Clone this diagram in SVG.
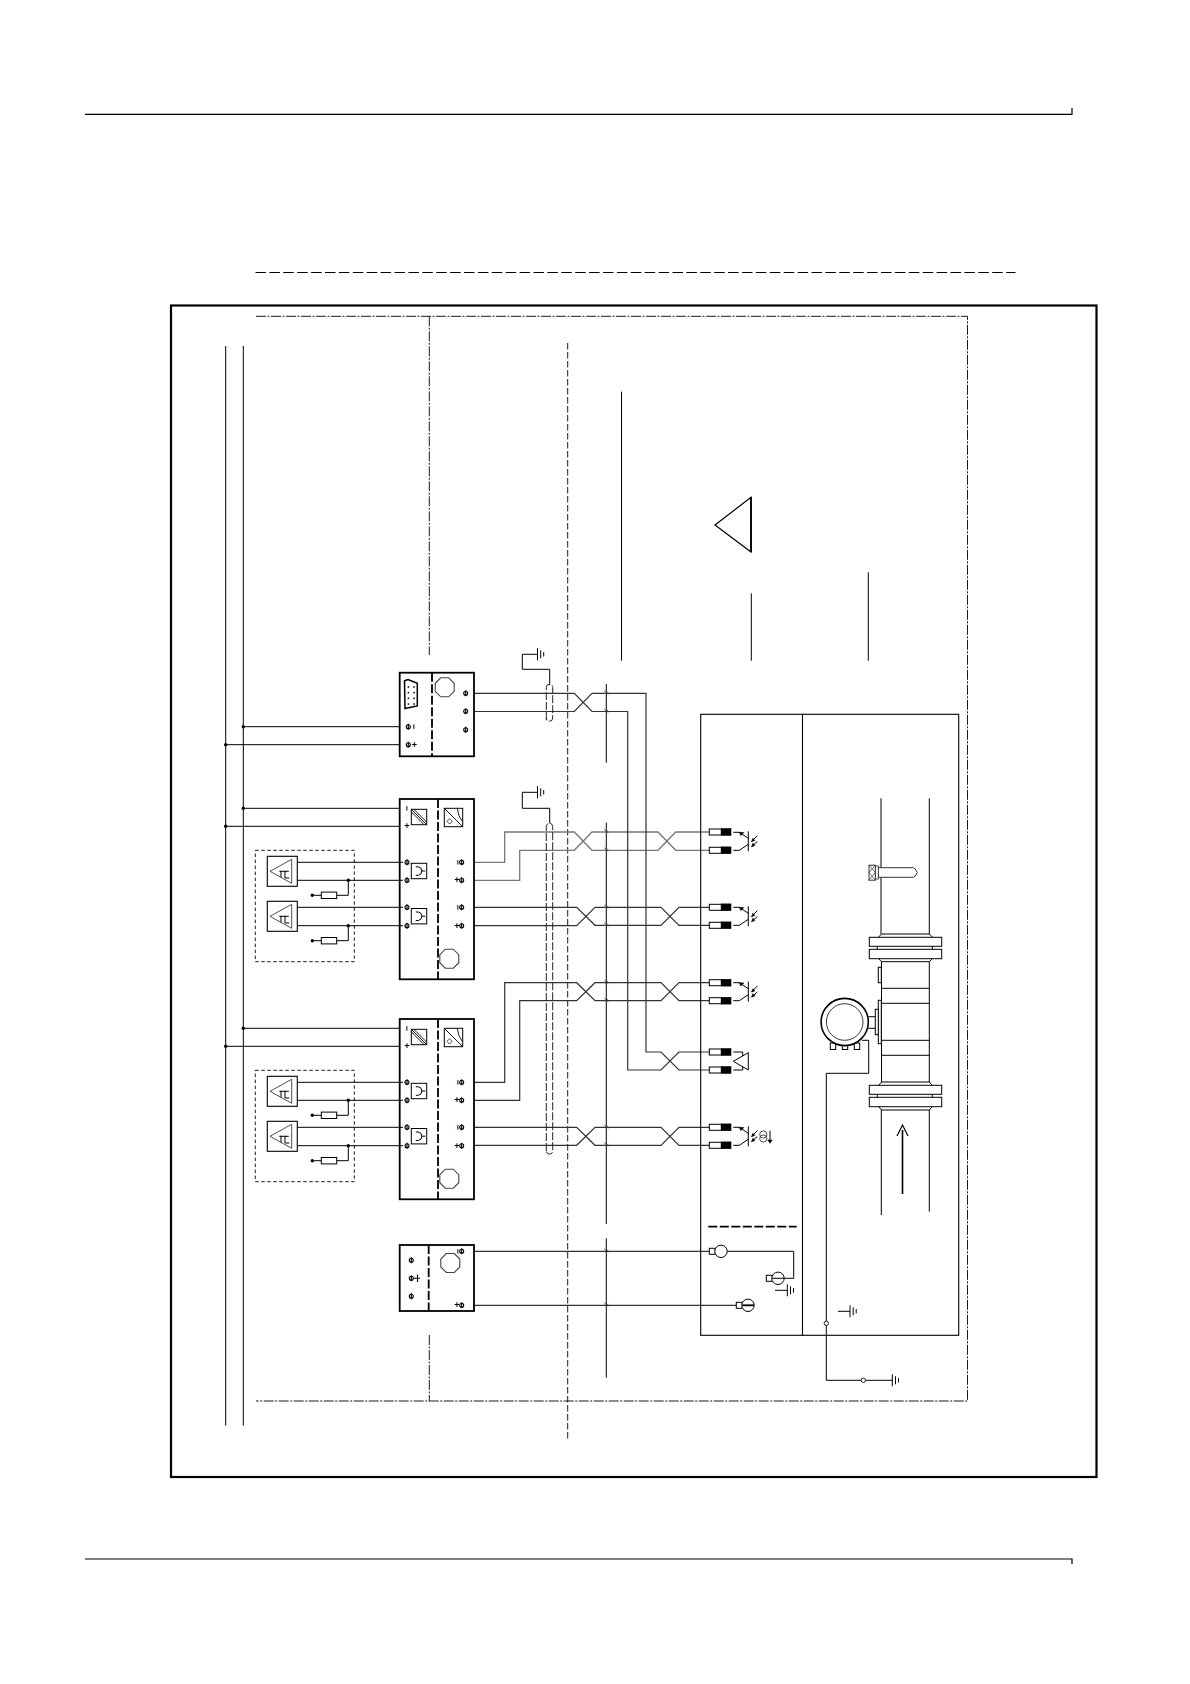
<svg xmlns="http://www.w3.org/2000/svg" xmlns:xlink="http://www.w3.org/1999/xlink" width="1190" height="1684" viewBox="0 0 1190 1684">
<style>
.l{fill:none;stroke:#000;stroke-width:1}
.thin{fill:none;stroke:#222;stroke-width:.8}
.box{fill:#fff;stroke:#000;stroke-width:1.8}
.sq{fill:#fff;stroke:#000;stroke-width:1}
.div{fill:none;stroke:#000;stroke-width:1.8;stroke-dasharray:9 2.5}
.dd{fill:none;stroke:#000;stroke-width:.9;stroke-dasharray:10 1.5 2 1.5}
.da{fill:none;stroke:#000;stroke-width:.9;stroke-dasharray:3.5 2.5}
.cap{fill:none;stroke:#222;stroke-width:1;stroke-dasharray:8 2}
.gr{fill:none;stroke:#777;stroke-width:1.3}
.dg{fill:none;stroke:#333;stroke-width:1.2}
.oct{fill:#fff;stroke:#444;stroke-width:1.1}
.dot{fill:#000}
.blk{fill:#000;stroke:#000;stroke-width:.6}
.m{font-family:"Liberation Sans",Arial,sans-serif;font-size:9px;font-weight:bold;text-anchor:middle;dominant-baseline:central;fill:#000}
</style>
<defs>
<g id="t"><circle r="2" fill="none" stroke="#000" stroke-width="1.1"/><path d="M0 -3V3" stroke="#000" stroke-width="1.1"/></g>
<g id="gnd"><path d="M0 -6V6" class="l"/><path d="M3.2 -4V4M6.2 -2.2V2.2" class="l"/></g>
<polygon id="octa" class="oct" points="-4,-9.5 4,-9.5 9.5,-4 9.5,4 4,9.5 -4,9.5 -9.5,4 -9.5,-4"/>
<path id="tick" d="M-2 -2.5L2 1M-.5 .5L1.5 -1.5" fill="none" stroke="#333" stroke-width=".8"/>
<g id="plug"><rect x="0" y="-3" width="12" height="6" class="sq"/><rect x="12" y="-3.4" width="9.7" height="6.8" class="blk"/></g>
<g id="sens">
<rect width="30" height="30" class="sq" style="stroke-width:1.1"/>
<path d="M2.7 15L24.4 3V27Z" class="thin"/>
<path d="M12 15H21.5M17.7 14.5V21.7H22M13.7 14.5V21" class="l"/>
</g>
<g id="arc"><rect width="15.4" height="15.4" class="sq"/><path d="M4.5 3.5H7Q10.5 4 10.5 7.7Q10.5 11.5 7 12H4.5M10.5 7.7H14" class="l"/></g>
<g id="res"><circle r="1.7" class="dot"/><path d="M0 0H9M24.4 0H36V-15" class="l"/><rect x="9" y="-3.2" width="15.4" height="6.4" class="sq"/><circle cx="36" cy="-15" r="1.7" class="dot"/></g>
<g id="sq1"><rect width="15.4" height="15.4" class="sq"/><path d="M0 0L15.4 15.4M2.5 0L15.4 12.9M0 2.5L12.9 15.4" class="l" style="stroke-width:.9"/></g>
<g id="sq2"><rect width="18.4" height="18.4" class="sq"/><path d="M0 0L18 18M18 13L14.5 7L13 0" class="l" style="stroke-width:.9"/><path d="M5.3 10.5L8 13L5.3 15.8L2.6 13Z" class="thin"/></g>
<g id="photo">
<path d="M0 0H6L15 6M0 18H6L15 12M15 -1V19" class="l"/>
<path d="M6 0L10.5 .3L7.5 3.3Z" class="blk"/>
<path d="M24 3.3L18.3 9.3M24 9.3L18.3 14.3" class="l"/>
<path d="M18.3 9.3L21.5 8.2L19.6 6ZM18.3 14.3L21.5 13.3L19.6 11Z" class="blk"/>
</g>
<g id="bx">
<rect x="399.7" y="799" width="74.3" height="180.3" class="box"/>
<path d="M438 799V979.3" class="div"/>
<use href="#octa" x="449.3" y="958.7"/>
<use href="#sq1" x="411.3" y="809.3"/>
<use href="#sq2" x="444.3" y="808.3"/>
<use href="#arc" x="411.3" y="863.3"/>
<use href="#arc" x="411.3" y="908.5"/>
<text class="m" transform="rotate(90 407 808.3)" x="407" y="808.3">−</text>
<text class="m" x="407" y="826.3">+</text>
<use href="#t" x="407" y="862.3"/><use href="#t" x="407" y="880.3"/><use href="#t" x="407" y="907.3"/><use href="#t" x="407" y="925.7"/>
<use href="#t" x="461.7" y="862.3"/><use href="#t" x="461.7" y="880.3"/><use href="#t" x="461.7" y="907.3"/><use href="#t" x="461.7" y="925.7"/>
<text class="m" transform="rotate(90 458 862.3)" x="458" y="862.3">−</text><text class="m" x="457" y="880.3">+</text>
<text class="m" transform="rotate(90 458 907.3)" x="458" y="907.3">−</text><text class="m" x="457" y="925.7">+</text>
</g>
<g id="sgroup">
<rect x="255.3" y="850.3" width="99" height="111.4" class="da"/>
<use href="#sens" x="267.3" y="856.3"/>
<use href="#sens" x="267.3" y="901.3"/>
<path d="M297.3 862.3H403M297.3 880.3H403M297.3 907.3H403M297.3 925.7H403" class="l"/>
<use href="#res" x="312.3" y="895.3"/>
<use href="#res" x="312.3" y="940.7"/>
</g>
</defs>
<rect width="1190" height="1684" fill="#fff"/>

<g id="page-rules">
<path d="M85 114.3H1072V108" class="l" style="stroke-width:1.2"/>
<path d="M85 1559H1072V1564" class="l" style="stroke-width:1.2"/>
<path d="M255.5 272.5H1015.5" fill="none" stroke="#000" stroke-width="1" stroke-dasharray="10.5 3.4"/>
</g>
<rect id="frame" x="171" y="305.5" width="925.5" height="1171.5" fill="none" stroke="#000" stroke-width="2.2"/>
<g id="boundaries">
<path d="M256 316.3H967.5V1401H256" class="dd"/>
<path d="M429.3 316.3V655M429.3 1335V1401" class="dd"/>
<path d="M567.7 343V1440" fill="none" stroke="#000" stroke-width=".9" stroke-dasharray="6.5 2.5"/>
</g>
<g id="buses">
<path d="M225.7 346V1425.6M243.3 346V1425.6" class="l"/>
</g>
<g id="leaders">
<path d="M621.5 391.7V660.7M751.3 593.3V660.7M868.3 572.3V660.7" class="l"/>
<path d="M715 525L751 497.3V552Z" fill="none" stroke="#000" stroke-width="1.2"/>
<path d="M751 497.3V552" class="l" style="stroke-width:1.8"/>
</g>

<g id="connectors">
<path d="M243.3 726.7H402.7M225.7 744.7H402.7M243.3 808.3H403M225.7 826.3H403M243.3 1028.3H403M225.7 1046.3H403" class="l"/>
<circle cx="243.3" cy="726.7" r="1.7" class="dot"/><circle cx="225.7" cy="744.7" r="1.7" class="dot"/>
<circle cx="243.3" cy="808.3" r="1.7" class="dot"/><circle cx="225.7" cy="826.3" r="1.7" class="dot"/>
<circle cx="243.3" cy="1028.3" r="1.7" class="dot"/><circle cx="225.7" cy="1046.3" r="1.7" class="dot"/>
<path d="M606.3 684V762.7M606.3 822.7V1224M606.3 1238.3V1377.7" class="l"/>
<path d="M471.7 862.3H504.7V832H574.3L592 850.3H658L675.7 832H709.3" class="gr"/>
<path d="M471.7 880.3H519.7V850.3H574.3L592 832H658L675.7 850.3H709.3" class="gr"/>
<path d="M471.7 907.3H576.7L595 925.3H661L679 907.3H709.3" class="dg"/>
<path d="M471.7 925.7H576.7L595 907.3H661L679 925.3H709.3" class="dg"/>
<path d="M468.3 1082.3H504.7V982.7H576.7L595 1000.7H661L679 982.7H709.3" class="dg"/>
<path d="M468.3 1100.3H519.7V1000.7H576.7L595 982.7H661L679 1000.7H709.3" class="dg"/>
<path d="M468.3 1127.3H576.7L595 1145.3H661L679 1127.3H709.3" class="dg"/>
<path d="M468.3 1145.3H576.7L595 1127.3H661L679 1145.3H709.3" class="dg"/>
<path d="M471.7 693.3H574.3L592 711.5H627.7V1070H661L679 1052H709.3" class="dg"/>
<path d="M471.7 711.5H574.3L592 693.3H646V1052H661L679 1070H709.3" class="dg"/>
<use href="#tick" x="606.3" y="693.3"/><use href="#tick" x="606.3" y="711.5"/>
<use href="#tick" x="606.3" y="832"/><use href="#tick" x="606.3" y="850.3"/>
<use href="#tick" x="606.3" y="907.3"/><use href="#tick" x="606.3" y="925.3"/>
<use href="#tick" x="606.3" y="982.7"/><use href="#tick" x="606.3" y="1000.7"/>
<use href="#tick" x="606.3" y="1127.3"/><use href="#tick" x="606.3" y="1145.3"/>
<use href="#tick" x="606.3" y="1251.3"/><use href="#tick" x="606.3" y="1305.3"/>
<path d="M537.5 654.3H522.3V669.3H549.7V685" class="l"/>
<path d="M537.5 792.3H522.3V808.3H549.7V823.3" class="l"/>
<path d="M546.3 720V687.5A3.2 3.2 0 0 1 552.7 687.5V718A3.2 3.2 0 0 1 546.3 718" class="cap"/>
<path d="M546.3 1151V826.5A3.2 3.2 0 0 1 552.7 826.5V1151A3.2 3.2 0 0 1 546.3 1151" class="cap"/>
<use href="#gnd" x="537.5" y="654.3"/>
<use href="#gnd" x="537.5" y="792.3"/>
<path d="M468.3 1251.3H709.3M726.7 1251.3H793.7V1278.3H772.3" class="l"/>
<path d="M468.3 1305.3H736.5" class="l"/>
<path d="M862 1040.3H868.7V1073.3H826.3V1380.3H892.3" class="l"/>
<circle cx="826.3" cy="1323.3" r="2.2" fill="#fff" stroke="#222"/>
<circle cx="863.3" cy="1380.3" r="2.2" fill="#fff" stroke="#222"/>
</g>

<g id="box-a">
<rect x="399.7" y="672.7" width="74.3" height="83.6" class="box"/>
<path d="M432 672.7V756.3" class="div"/>
<use href="#octa" x="444.7" y="687.3"/>
<path d="M404.5 680.7L408 679.6L417.3 683.3V706L405 708.5Z" fill="#fff" stroke="#000" stroke-width="1.5"/>
<path d="M407.5 687H409.3M408.4 686V688M413 687H415M414 686V688M407.5 692.7H409.3M408.4 691.7V693.7M413 692.7H415M414 691.7V693.7M407.5 698.3H409.3M408.4 697.3V699.3M413 698.3H415M414 697.3V699.3M407.5 704H409.3M408.4 703V705M413 704H415M414 703V705" stroke="#000" stroke-width=".7" fill="none"/>
<use href="#t" x="465.7" y="693.3"/><use href="#t" x="465.7" y="711.3"/><use href="#t" x="465.7" y="729.7"/>
<use href="#t" x="408.3" y="726.7"/><use href="#t" x="408.3" y="744.7"/>
<text class="m" transform="rotate(90 414 726.7)" x="414" y="726.7">−</text>
<text class="m" x="414.5" y="744.7">+</text>
</g>
<g id="box-b"><use href="#bx"/></g>
<g id="box-c"><use href="#bx" y="220"/></g>
<g id="box-d">
<rect x="399.7" y="1245" width="74.3" height="66" class="box"/>
<path d="M428.7 1245V1311" class="div"/>
<use href="#octa" x="450.3" y="1263"/>
<use href="#t" x="461.7" y="1251.3"/><use href="#t" x="461.7" y="1305.3"/>
<text class="m" transform="rotate(90 458 1251.3)" x="458" y="1251.3">−</text>
<text class="m" x="457" y="1305.3">+</text>
<use href="#t" x="411.3" y="1260.3"/><use href="#t" x="411.3" y="1278.3"/><use href="#t" x="411.3" y="1296.3"/>
<path d="M414 1278.3H420M417.5 1274.5V1282" fill="none" stroke="#000" stroke-width="1.1"/>
</g>
<g id="sensors-b"><use href="#sgroup"/></g>
<g id="sensors-c"><use href="#sgroup" y="220"/></g>

<g id="enclosure">
<rect x="700.7" y="714.3" width="258" height="621" fill="none" stroke="#000" stroke-width="1.1"/>
<path d="M802.5 714.3V1335.3" class="l" style="stroke-width:1.1"/>
<path d="M708.3 1226.7H796.7" fill="none" stroke="#000" stroke-width="1.8" stroke-dasharray="9 2.5"/>
</g>
<g id="terminals">
<use href="#plug" x="709.3" y="832"/><use href="#plug" x="709.3" y="850.3"/>
<use href="#plug" x="709.3" y="907.3"/><use href="#plug" x="709.3" y="925.3"/>
<use href="#plug" x="709.3" y="982.7"/><use href="#plug" x="709.3" y="1000.7"/>
<use href="#plug" x="709.3" y="1052"/><use href="#plug" x="709.3" y="1070"/>
<use href="#plug" x="709.3" y="1127.3"/><use href="#plug" x="709.3" y="1145.3"/>
</g>
<g id="outputs">
<use href="#photo" x="733.3" y="832.3"/>
<use href="#photo" x="733.3" y="907.3"/>
<use href="#photo" x="733.3" y="982.7"/>
<use href="#photo" x="733.3" y="1127.3"/>
<path d="M748.3 1052.7V1070L733.3 1061.3ZM733.3 1052H742.7V1056M733.3 1070H742.7V1066.5" class="l"/>
<circle cx="763.3" cy="1134.5" r="3.6" class="thin"/><circle cx="763.3" cy="1138.5" r="3.6" class="thin"/>
<path d="M770 1130.7V1141" class="l"/><path d="M767.8 1140L770 1143.2L772.2 1140Z" class="blk"/>
</g>
<g id="supply-terminals">
<rect x="709.3" y="1248.3" width="6" height="6" class="sq"/><circle cx="721" cy="1251.3" r="6.2" fill="#fff" stroke="#000"/>
<rect x="766.3" y="1275.3" width="6" height="6" class="sq"/><circle cx="778" cy="1278.3" r="6.2" fill="#fff" stroke="#000"/><path d="M772.3 1278.3H784" class="l"/>
<rect x="736.3" y="1302.3" width="6" height="6" class="sq"/><circle cx="748" cy="1305.3" r="6.2" fill="#fff" stroke="#000"/><path d="M742.3 1305.3H754" class="l" style="stroke-width:1.8"/>
<path d="M775 1290.3H787.3" class="l"/><use href="#gnd" x="787.3" y="1290.3"/>
<path d="M838 1311.3H850" class="l"/><use href="#gnd" x="850" y="1311.3"/>
<use href="#gnd" x="892.3" y="1380.3"/>
</g>
<g id="flow-meter">
<path d="M881 798.3V934M929.3 798.3V934M881.5 961.7V1082M929.3 961.7V1082M881.3 1110V1215M929.3 1110V1211.7" class="l"/>
<path d="M878.7 937L881.5 934H929.3L932.3 937M878.7 958.7L881.5 961.7H929.3L932.3 958.7M878.7 1085.3L881.5 1082H929.3L932.3 1085.3M878.7 1106.7L881.5 1110H929.3L932.3 1106.7" class="l"/>
<rect x="869.3" y="937.3" width="72.4" height="9" class="sq"/><rect x="869.3" y="949.3" width="72.4" height="9.4" class="sq"/>
<rect x="869.3" y="1085.3" width="72.4" height="9" class="sq"/><rect x="869.3" y="1097.3" width="72.4" height="9.4" class="sq"/>
<path d="M877.3 946.3V949.3M932.3 946.3V949.3M877.3 1094.3V1097.3M932.3 1094.3V1097.3" class="l"/>
<path d="M881.5 988.3H929.3M881.5 1003.3H929.3M881.5 1040.3H929.3M881.5 1055.3H929.3" class="l"/>
<rect x="878.3" y="967.3" width="3" height="15.4" class="sq"/>
<rect x="878.3" y="1000.3" width="3" height="43.4" class="sq"/>
<rect x="875.3" y="1009.3" width="3" height="25.4" class="sq"/>
<path d="M868.3 1016.7H875.3M868.3 1028.3H875.3" class="l"/>
<rect x="830.3" y="1043" width="5.4" height="6.5" class="sq"/><rect x="842.3" y="1043" width="5.4" height="6.5" class="sq"/><rect x="854.3" y="1043" width="5.4" height="6.5" class="sq"/>
<circle cx="844.7" cy="1022" r="23.6" fill="#fff" stroke="#000" stroke-width="1.6"/>
<circle cx="844.7" cy="1022" r="18.3" fill="#fff" stroke="#222" stroke-width=".9"/>
<path d="M902.5 1194V1130" stroke="#000" stroke-width="1.6" fill="none"/>
<path d="M897 1136L902.5 1125L908 1136" fill="none" stroke="#000" stroke-width="1.2"/>
</g>
<g id="thermowell">
<path d="M878.3 867.7H913.3Q915 867.7 917.3 872.5Q915 877.3 913.3 877.3H878.3Z" fill="#fff" stroke="#333" stroke-width="1"/>
<rect x="875.3" y="866" width="3" height="13" fill="#fff" stroke="#333" stroke-width=".9"/>
<rect x="869" y="865.2" width="6.3" height="15" fill="#fff" stroke="#333" stroke-width="1"/>
<path d="M869 865.2L875.3 872.5L869 880.2M875.3 865.2L869 872.5L875.3 880.2" fill="none" stroke="#333" stroke-width=".7"/>
</g>
</svg>
